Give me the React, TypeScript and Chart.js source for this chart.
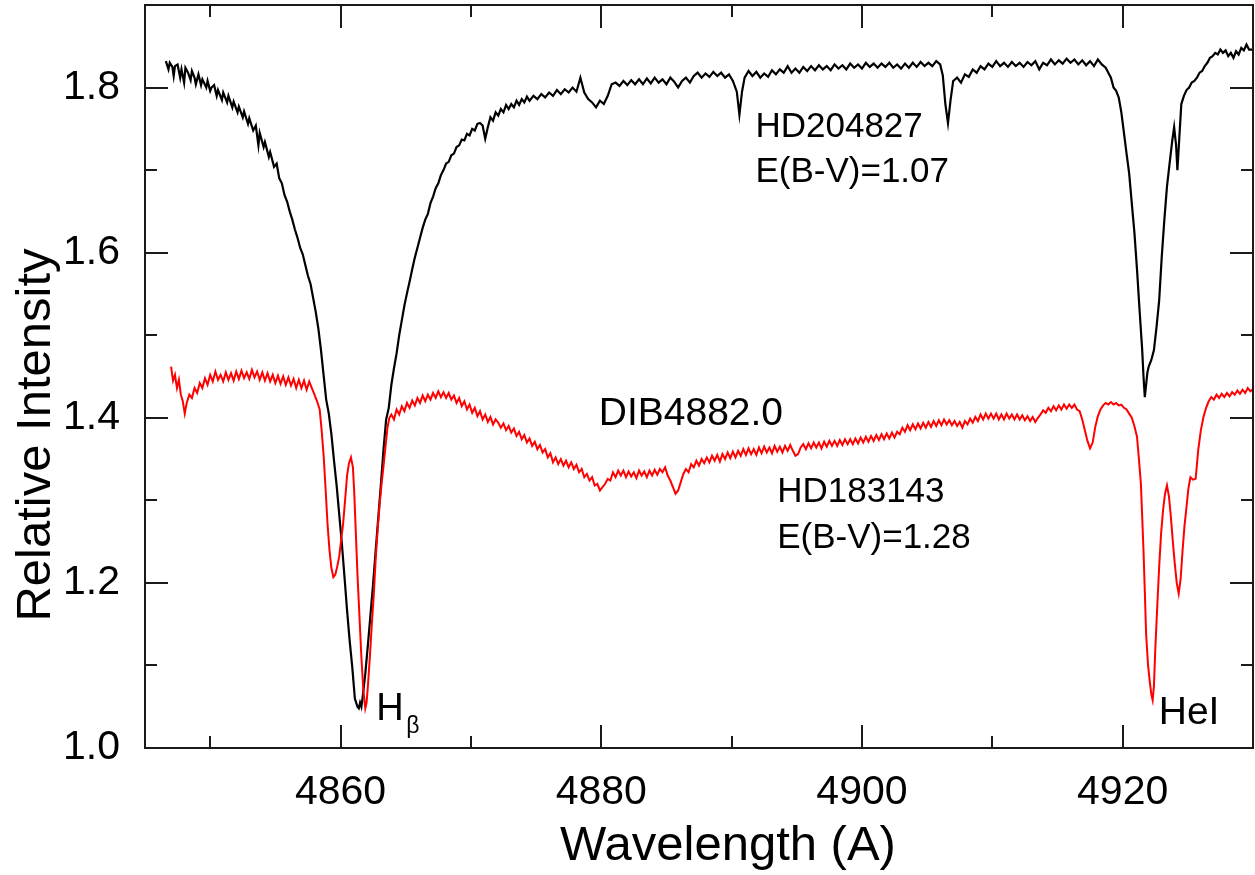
import React, { useEffect, useRef } from "react";
import { Chart, registerables } from "chart.js";

Chart.register(...registerables);

const X_MIN = 4845;
const X_MAX = 4930;
const Y_MIN = 1.0;
const Y_MAX = 1.9;
const X_MAJOR = [4860, 4880, 4900, 4920];
const X_MINOR = [4850, 4870, 4890, 4910];
const Y_MAJOR = [1.0, 1.2, 1.4, 1.6, 1.8];
const Y_MINOR = [1.1, 1.3, 1.5, 1.7];

const X_TITLE = "Wavelength (A)";
const Y_TITLE = "Relative Intensity";

// HD204827, E(B-V)=1.07 : [wavelength, relative intensity]
const HD204827: [number, number][] = [
  [4846.6, 1.832], [4846.8, 1.822], [4846.9, 1.830], [4847.1, 1.825], [4847.2, 1.814], [4847.3, 1.826], [4847.5, 1.828], [4847.7, 1.812],
  [4847.8, 1.822], [4848.0, 1.806], [4848.1, 1.824], [4848.3, 1.818], [4848.5, 1.809], [4848.6, 1.820], [4848.8, 1.812], [4848.9, 1.804],
  [4849.1, 1.816], [4849.3, 1.803], [4849.4, 1.810], [4849.7, 1.800], [4849.8, 1.808], [4850.0, 1.796], [4850.1, 1.800],
  [4850.3, 1.803], [4850.5, 1.790], [4850.6, 1.797], [4850.9, 1.785], [4851.0, 1.794], [4851.3, 1.782],
  [4851.4, 1.790], [4851.7, 1.776], [4851.8, 1.783], [4852.1, 1.770], [4852.2, 1.777], [4852.5, 1.764],
  [4852.6, 1.771], [4852.9, 1.756], [4853.0, 1.763], [4853.3, 1.748], [4853.5, 1.754], [4853.7, 1.730],
  [4853.8, 1.745], [4854.1, 1.728], [4854.2, 1.734], [4854.5, 1.716], [4854.6, 1.722], [4854.9, 1.704],
  [4855.1, 1.708], [4855.3, 1.690], [4855.5, 1.684], [4855.7, 1.670], [4855.9, 1.662], [4856.1, 1.650],
  [4856.3, 1.640], [4856.5, 1.628], [4856.7, 1.618], [4856.9, 1.606], [4857.1, 1.598], [4857.3, 1.585],
  [4857.5, 1.572], [4857.7, 1.562], [4857.9, 1.545], [4858.1, 1.528], [4858.3, 1.508], [4858.5, 1.482],
  [4858.7, 1.452], [4858.9, 1.422], [4859.1, 1.405], [4859.3, 1.380], [4859.5, 1.348], [4859.7, 1.318],
  [4859.9, 1.283], [4860.1, 1.248], [4860.3, 1.208], [4860.5, 1.167], [4860.7, 1.130], [4860.9, 1.098],
  [4861.1, 1.060], [4861.3, 1.050], [4861.4, 1.048], [4861.5, 1.055], [4861.6, 1.050], [4861.7, 1.062],
  [4861.9, 1.090], [4862.1, 1.125], [4862.3, 1.162], [4862.5, 1.199], [4862.7, 1.240], [4862.9, 1.280],
  [4863.1, 1.320], [4863.3, 1.362], [4863.5, 1.398], [4863.7, 1.412], [4863.9, 1.440], [4864.1, 1.460],
  [4864.3, 1.478], [4864.5, 1.500], [4864.7, 1.518], [4864.9, 1.536], [4865.1, 1.551], [4865.3, 1.565],
  [4865.5, 1.580], [4865.7, 1.594], [4865.9, 1.606], [4866.1, 1.618], [4866.3, 1.630], [4866.5, 1.640],
  [4866.7, 1.647], [4866.9, 1.660], [4867.1, 1.668], [4867.3, 1.678], [4867.5, 1.684], [4867.7, 1.694],
  [4867.9, 1.700], [4868.1, 1.708], [4868.3, 1.710], [4868.5, 1.718], [4868.7, 1.720], [4868.9, 1.728],
  [4869.1, 1.730], [4869.3, 1.737], [4869.5, 1.736], [4869.7, 1.744], [4869.9, 1.742], [4870.1, 1.750],
  [4870.3, 1.748], [4870.5, 1.756], [4870.7, 1.757], [4870.9, 1.754], [4871.1, 1.738], [4871.3, 1.752],
  [4871.5, 1.764], [4871.7, 1.760], [4871.9, 1.770], [4872.1, 1.766], [4872.3, 1.774], [4872.5, 1.770],
  [4872.7, 1.779], [4872.9, 1.774], [4873.1, 1.780], [4873.3, 1.776], [4873.5, 1.784], [4873.7, 1.779],
  [4873.9, 1.786], [4874.1, 1.782], [4874.3, 1.789], [4874.5, 1.784], [4874.8, 1.790], [4875.1, 1.786],
  [4875.4, 1.792], [4875.7, 1.788], [4876.0, 1.794], [4876.3, 1.790], [4876.6, 1.797], [4876.9, 1.792],
  [4877.2, 1.798], [4877.5, 1.794], [4877.8, 1.800], [4878.1, 1.795], [4878.4, 1.812], [4878.7, 1.794],
  [4879.0, 1.786], [4879.3, 1.782], [4879.6, 1.776], [4879.9, 1.784], [4880.2, 1.780], [4880.5, 1.790],
  [4880.8, 1.804], [4881.1, 1.806], [4881.4, 1.802], [4881.7, 1.808], [4882.0, 1.803], [4882.3, 1.809],
  [4882.6, 1.804], [4882.9, 1.810], [4883.2, 1.804], [4883.5, 1.811], [4883.8, 1.805], [4884.1, 1.812],
  [4884.4, 1.806], [4884.7, 1.810], [4885.0, 1.804], [4885.3, 1.812], [4885.6, 1.807], [4885.9, 1.800],
  [4886.2, 1.808], [4886.5, 1.812], [4886.8, 1.806], [4887.1, 1.814], [4887.4, 1.818], [4887.7, 1.812],
  [4888.0, 1.817], [4888.3, 1.813], [4888.6, 1.819], [4888.9, 1.814], [4889.2, 1.818], [4889.5, 1.812],
  [4889.8, 1.816], [4890.1, 1.808], [4890.4, 1.795], [4890.6, 1.767], [4890.8, 1.795], [4891.0, 1.812],
  [4891.3, 1.820], [4891.6, 1.814], [4891.9, 1.819], [4892.2, 1.812], [4892.5, 1.817], [4892.8, 1.813],
  [4893.1, 1.821], [4893.4, 1.816], [4893.7, 1.822], [4894.0, 1.818], [4894.3, 1.826], [4894.6, 1.818],
  [4894.9, 1.823], [4895.2, 1.818], [4895.5, 1.825], [4895.8, 1.820], [4896.1, 1.826], [4896.4, 1.821],
  [4896.7, 1.827], [4897.0, 1.822], [4897.3, 1.826], [4897.6, 1.821], [4897.9, 1.828], [4898.2, 1.823],
  [4898.5, 1.827], [4898.8, 1.822], [4899.1, 1.829], [4899.4, 1.824], [4899.7, 1.828], [4900.0, 1.823],
  [4900.3, 1.830], [4900.6, 1.825], [4900.9, 1.829], [4901.2, 1.824], [4901.5, 1.829], [4901.8, 1.825],
  [4902.1, 1.830], [4902.4, 1.824], [4902.7, 1.828], [4903.0, 1.823], [4903.3, 1.829], [4903.6, 1.824],
  [4903.9, 1.830], [4904.2, 1.825], [4904.5, 1.831], [4904.8, 1.826], [4905.1, 1.830], [4905.4, 1.826],
  [4905.7, 1.832], [4906.0, 1.828], [4906.2, 1.815], [4906.4, 1.780], [4906.6, 1.757], [4906.8, 1.785],
  [4907.0, 1.808], [4907.3, 1.812], [4907.6, 1.806], [4907.9, 1.816], [4908.2, 1.813], [4908.5, 1.822],
  [4908.8, 1.818], [4909.1, 1.826], [4909.4, 1.822], [4909.7, 1.829], [4910.0, 1.825], [4910.3, 1.832],
  [4910.6, 1.826], [4910.9, 1.830], [4911.2, 1.825], [4911.5, 1.831], [4911.8, 1.826], [4912.1, 1.830],
  [4912.4, 1.825], [4912.7, 1.831], [4913.0, 1.827], [4913.3, 1.832], [4913.6, 1.822], [4913.9, 1.830],
  [4914.2, 1.827], [4914.5, 1.834], [4914.8, 1.828], [4915.1, 1.833], [4915.4, 1.829], [4915.7, 1.835],
  [4916.0, 1.830], [4916.3, 1.834], [4916.6, 1.828], [4916.9, 1.833], [4917.2, 1.827], [4917.5, 1.832],
  [4917.8, 1.826], [4918.1, 1.834], [4918.4, 1.828], [4918.7, 1.824], [4918.9, 1.818], [4919.1, 1.812],
  [4919.3, 1.800], [4919.5, 1.796], [4919.7, 1.788], [4919.9, 1.770], [4920.1, 1.745], [4920.3, 1.720],
  [4920.5, 1.696], [4920.7, 1.660], [4920.9, 1.625], [4921.1, 1.580], [4921.3, 1.530], [4921.5, 1.482],
  [4921.6, 1.450], [4921.7, 1.425], [4921.8, 1.440], [4921.9, 1.455], [4922.0, 1.462], [4922.2, 1.470],
  [4922.4, 1.482], [4922.6, 1.510], [4922.8, 1.542], [4923.0, 1.595], [4923.2, 1.640], [4923.4, 1.680],
  [4923.6, 1.708], [4923.8, 1.735], [4923.95, 1.752], [4924.1, 1.730], [4924.2, 1.700], [4924.35, 1.740],
  [4924.5, 1.780], [4924.7, 1.790], [4924.9, 1.797], [4925.1, 1.800], [4925.3, 1.806], [4925.5, 1.808],
  [4925.7, 1.812], [4925.9, 1.818], [4926.1, 1.820], [4926.3, 1.826], [4926.5, 1.830], [4926.7, 1.836],
  [4926.9, 1.838], [4927.1, 1.842], [4927.3, 1.840], [4927.5, 1.846], [4927.7, 1.842], [4927.9, 1.845],
  [4928.1, 1.838], [4928.3, 1.842], [4928.5, 1.836], [4928.7, 1.844], [4928.9, 1.840], [4929.1, 1.848],
  [4929.3, 1.845], [4929.5, 1.852], [4929.7, 1.846], [4930.0, 1.846],
];

// HD183143, E(B-V)=1.28 : [wavelength, relative intensity]
const HD183143: [number, number][] = [
  [4847.0, 1.462], [4847.15, 1.445], [4847.3, 1.452], [4847.45, 1.436], [4847.6, 1.446], [4847.75, 1.428],
  [4847.9, 1.420], [4848.05, 1.405], [4848.2, 1.418], [4848.4, 1.428], [4848.6, 1.424], [4848.8, 1.436],
  [4849.0, 1.430], [4849.2, 1.442], [4849.4, 1.436], [4849.6, 1.448], [4849.8, 1.440], [4850.0, 1.452],
  [4850.2, 1.444], [4850.4, 1.456], [4850.6, 1.446], [4850.8, 1.452], [4851.0, 1.444], [4851.2, 1.455],
  [4851.4, 1.446], [4851.6, 1.454], [4851.8, 1.445], [4852.0, 1.456], [4852.2, 1.447], [4852.4, 1.457],
  [4852.6, 1.448], [4852.8, 1.455], [4853.0, 1.447], [4853.2, 1.458], [4853.4, 1.449], [4853.6, 1.456],
  [4853.8, 1.446], [4854.0, 1.455], [4854.2, 1.445], [4854.4, 1.454], [4854.6, 1.444], [4854.8, 1.452],
  [4855.0, 1.442], [4855.2, 1.451], [4855.4, 1.441], [4855.6, 1.450], [4855.8, 1.440], [4856.0, 1.449],
  [4856.2, 1.439], [4856.4, 1.447], [4856.6, 1.436], [4856.8, 1.446], [4857.0, 1.436], [4857.2, 1.445],
  [4857.4, 1.434], [4857.6, 1.444], [4857.8, 1.436], [4858.0, 1.428], [4858.2, 1.420], [4858.4, 1.410],
  [4858.55, 1.385], [4858.7, 1.355], [4858.85, 1.315], [4859.0, 1.272], [4859.15, 1.240], [4859.3, 1.218],
  [4859.45, 1.207], [4859.6, 1.210], [4859.75, 1.220], [4859.9, 1.232], [4860.05, 1.252], [4860.2, 1.272],
  [4860.35, 1.300], [4860.5, 1.330], [4860.65, 1.345], [4860.8, 1.352], [4860.95, 1.340], [4861.05, 1.310],
  [4861.15, 1.270], [4861.3, 1.210], [4861.45, 1.160], [4861.6, 1.110], [4861.75, 1.070], [4861.9, 1.048],
  [4862.0, 1.055], [4862.1, 1.075], [4862.25, 1.110], [4862.4, 1.150], [4862.55, 1.185], [4862.7, 1.230],
  [4862.85, 1.265], [4863.0, 1.295], [4863.15, 1.320], [4863.3, 1.342], [4863.45, 1.365], [4863.6, 1.388],
  [4863.75, 1.400], [4863.9, 1.404], [4864.1, 1.398], [4864.3, 1.410], [4864.5, 1.404], [4864.7, 1.414],
  [4864.9, 1.408], [4865.1, 1.418], [4865.3, 1.412], [4865.5, 1.421], [4865.7, 1.415], [4865.9, 1.424],
  [4866.1, 1.418], [4866.3, 1.427], [4866.5, 1.420], [4866.7, 1.428], [4866.9, 1.422], [4867.1, 1.430],
  [4867.3, 1.424], [4867.5, 1.432], [4867.7, 1.425], [4867.9, 1.431], [4868.1, 1.424], [4868.3, 1.430],
  [4868.5, 1.422], [4868.7, 1.427], [4868.9, 1.418], [4869.1, 1.424], [4869.3, 1.414], [4869.5, 1.420],
  [4869.7, 1.410], [4869.9, 1.416], [4870.1, 1.406], [4870.3, 1.412], [4870.5, 1.402], [4870.7, 1.408],
  [4870.9, 1.398], [4871.1, 1.404], [4871.3, 1.395], [4871.5, 1.401], [4871.7, 1.392], [4871.9, 1.398],
  [4872.1, 1.394], [4872.3, 1.388], [4872.5, 1.393], [4872.7, 1.385], [4872.9, 1.390], [4873.1, 1.382],
  [4873.3, 1.387], [4873.5, 1.378], [4873.7, 1.383], [4873.9, 1.374], [4874.1, 1.379], [4874.3, 1.370],
  [4874.5, 1.375], [4874.7, 1.366], [4874.9, 1.371], [4875.1, 1.362], [4875.3, 1.367], [4875.5, 1.358],
  [4875.7, 1.362], [4875.9, 1.352], [4876.1, 1.357], [4876.3, 1.346], [4876.5, 1.352], [4876.7, 1.344],
  [4876.9, 1.350], [4877.1, 1.342], [4877.3, 1.348], [4877.5, 1.340], [4877.7, 1.346], [4877.9, 1.338],
  [4878.1, 1.343], [4878.3, 1.334], [4878.5, 1.338], [4878.7, 1.328], [4878.9, 1.332], [4879.1, 1.324],
  [4879.3, 1.328], [4879.5, 1.318], [4879.7, 1.320], [4879.9, 1.312], [4880.1, 1.316], [4880.3, 1.320],
  [4880.5, 1.326], [4880.7, 1.324], [4880.9, 1.334], [4881.1, 1.328], [4881.3, 1.336], [4881.5, 1.330],
  [4881.7, 1.336], [4881.9, 1.328], [4882.1, 1.335], [4882.3, 1.329], [4882.5, 1.334], [4882.7, 1.327],
  [4882.9, 1.336], [4883.1, 1.330], [4883.3, 1.335], [4883.5, 1.328], [4883.7, 1.336], [4883.9, 1.330],
  [4884.1, 1.337], [4884.3, 1.331], [4884.5, 1.338], [4884.7, 1.334], [4884.9, 1.340], [4885.1, 1.330],
  [4885.3, 1.324], [4885.5, 1.316], [4885.7, 1.308], [4885.9, 1.312], [4886.1, 1.322], [4886.3, 1.332],
  [4886.5, 1.338], [4886.7, 1.334], [4886.9, 1.344], [4887.1, 1.340], [4887.3, 1.348], [4887.5, 1.342],
  [4887.7, 1.350], [4887.9, 1.345], [4888.1, 1.352], [4888.3, 1.346], [4888.5, 1.354], [4888.7, 1.348],
  [4888.9, 1.355], [4889.1, 1.347], [4889.3, 1.356], [4889.5, 1.350], [4889.7, 1.358], [4889.9, 1.351],
  [4890.1, 1.359], [4890.3, 1.352], [4890.5, 1.360], [4890.7, 1.354], [4890.9, 1.362], [4891.1, 1.355],
  [4891.3, 1.363], [4891.5, 1.356], [4891.7, 1.362], [4891.9, 1.355], [4892.1, 1.364], [4892.3, 1.357],
  [4892.5, 1.365], [4892.7, 1.358], [4892.9, 1.364], [4893.1, 1.357], [4893.3, 1.366], [4893.5, 1.359],
  [4893.7, 1.365], [4893.9, 1.358], [4894.1, 1.366], [4894.3, 1.360], [4894.5, 1.367], [4894.7, 1.360],
  [4894.9, 1.354], [4895.1, 1.356], [4895.3, 1.364], [4895.5, 1.368], [4895.7, 1.362], [4895.9, 1.369],
  [4896.1, 1.363], [4896.3, 1.370], [4896.5, 1.364], [4896.7, 1.370], [4896.9, 1.363], [4897.1, 1.371],
  [4897.3, 1.365], [4897.5, 1.372], [4897.7, 1.366], [4897.9, 1.372], [4898.1, 1.366], [4898.3, 1.373],
  [4898.5, 1.367], [4898.7, 1.374], [4898.9, 1.368], [4899.1, 1.374], [4899.3, 1.368], [4899.5, 1.375],
  [4899.7, 1.369], [4899.9, 1.376], [4900.1, 1.370], [4900.3, 1.377], [4900.5, 1.371], [4900.7, 1.378],
  [4900.9, 1.372], [4901.1, 1.379], [4901.3, 1.373], [4901.5, 1.380], [4901.7, 1.374], [4901.9, 1.381],
  [4902.1, 1.375], [4902.3, 1.382], [4902.5, 1.376], [4902.7, 1.383], [4902.9, 1.380], [4903.1, 1.388],
  [4903.3, 1.383], [4903.5, 1.391], [4903.7, 1.385], [4903.9, 1.392], [4904.1, 1.386], [4904.3, 1.393],
  [4904.5, 1.387], [4904.7, 1.394], [4904.9, 1.388], [4905.1, 1.395], [4905.3, 1.389], [4905.5, 1.396],
  [4905.7, 1.390], [4905.9, 1.397], [4906.1, 1.391], [4906.3, 1.398], [4906.5, 1.392], [4906.7, 1.397],
  [4906.9, 1.391], [4907.1, 1.396], [4907.3, 1.390], [4907.5, 1.395], [4907.7, 1.388], [4907.9, 1.396],
  [4908.1, 1.392], [4908.3, 1.399], [4908.5, 1.394], [4908.7, 1.401], [4908.9, 1.396], [4909.1, 1.404],
  [4909.3, 1.398], [4909.5, 1.405], [4909.7, 1.399], [4909.9, 1.405], [4910.1, 1.399], [4910.3, 1.405],
  [4910.5, 1.398], [4910.7, 1.404], [4910.9, 1.398], [4911.1, 1.405], [4911.3, 1.399], [4911.5, 1.404],
  [4911.7, 1.398], [4911.9, 1.404], [4912.1, 1.398], [4912.3, 1.403], [4912.5, 1.397], [4912.7, 1.402],
  [4912.9, 1.396], [4913.1, 1.401], [4913.3, 1.395], [4913.5, 1.400], [4913.7, 1.404], [4913.9, 1.409],
  [4914.1, 1.406], [4914.3, 1.412], [4914.5, 1.408], [4914.7, 1.414], [4914.9, 1.409], [4915.1, 1.415],
  [4915.3, 1.410], [4915.5, 1.416], [4915.7, 1.411], [4915.9, 1.416], [4916.1, 1.412], [4916.3, 1.416],
  [4916.5, 1.410], [4916.7, 1.408], [4916.9, 1.398], [4917.1, 1.385], [4917.3, 1.372], [4917.5, 1.363],
  [4917.7, 1.370], [4917.9, 1.389], [4918.1, 1.402], [4918.3, 1.410], [4918.5, 1.415], [4918.7, 1.418],
  [4918.9, 1.416], [4919.1, 1.419], [4919.3, 1.416], [4919.5, 1.418], [4919.7, 1.415], [4919.9, 1.416],
  [4920.1, 1.412], [4920.3, 1.410], [4920.5, 1.405], [4920.7, 1.400], [4920.9, 1.390], [4921.1, 1.377],
  [4921.25, 1.350], [4921.4, 1.320], [4921.5, 1.280], [4921.6, 1.239], [4921.7, 1.190], [4921.8, 1.138],
  [4921.95, 1.100], [4922.1, 1.078], [4922.2, 1.065], [4922.3, 1.058], [4922.4, 1.075], [4922.5, 1.118],
  [4922.65, 1.170], [4922.8, 1.219], [4922.95, 1.260], [4923.1, 1.288], [4923.25, 1.308], [4923.4, 1.318],
  [4923.55, 1.305], [4923.7, 1.280], [4923.85, 1.250], [4924.0, 1.223], [4924.15, 1.200], [4924.3, 1.187],
  [4924.45, 1.205], [4924.6, 1.240], [4924.75, 1.270], [4924.9, 1.292], [4925.05, 1.315], [4925.2, 1.328],
  [4925.4, 1.325], [4925.6, 1.326], [4925.8, 1.361], [4926.0, 1.385], [4926.2, 1.401], [4926.4, 1.412],
  [4926.6, 1.420], [4926.8, 1.425], [4927.0, 1.422], [4927.2, 1.428], [4927.4, 1.424], [4927.6, 1.429],
  [4927.8, 1.425], [4928.0, 1.430], [4928.2, 1.426], [4928.4, 1.431], [4928.6, 1.428], [4928.8, 1.433],
  [4929.0, 1.429], [4929.2, 1.434], [4929.4, 1.430], [4929.6, 1.436], [4929.8, 1.432], [4930.0, 1.435],
];

// text labels anchored in data coordinates (left edge, baseline)
const ANNOTATIONS: { text: string; x: number; y: number; size: number }[] = [
  { text: "HD204827", x: 4891.83, y: 1.7404, size: 35 },
  { text: "E(B-V)=1.07", x: 4891.83, y: 1.6858, size: 35 },
  { text: "DIB4882.0", x: 4879.81, y: 1.3909, size: 39 },
  { text: "HD183143", x: 4893.5, y: 1.2976, size: 35 },
  { text: "E(B-V)=1.28", x: 4893.5, y: 1.2418, size: 35 },
  { text: "H", x: 4862.74, y: 1.0342, size: 38 },
  { text: "β", x: 4865.05, y: 1.0176, size: 23 },
  { text: "HeI", x: 4922.77, y: 1.0293, size: 39 },
];

const FONT = '"Liberation Sans", Arial, Helvetica, sans-serif';

const framePlugin = {
  id: "frameAndText",
  afterDatasetsDraw(chart: any) {
    const { ctx, chartArea: a, scales } = chart;
    const xs = scales.x;
    const ys = scales.y;
    ctx.save();
    ctx.strokeStyle = "#1a1a1a";
    ctx.lineWidth = 2;
    ctx.strokeRect(a.left, a.top, a.right - a.left, a.bottom - a.top);
    ctx.beginPath();
    const xt = (vals: number[], len: number) => {
      vals.forEach((v) => {
        const px = Math.round(xs.getPixelForValue(v));
        ctx.moveTo(px, a.bottom);
        ctx.lineTo(px, a.bottom - len);
        ctx.moveTo(px, a.top);
        ctx.lineTo(px, a.top + len);
      });
    };
    const yt = (vals: number[], len: number) => {
      vals.forEach((v) => {
        const py = Math.round(ys.getPixelForValue(v));
        ctx.moveTo(a.left, py);
        ctx.lineTo(a.left + len, py);
        ctx.moveTo(a.right, py);
        ctx.lineTo(a.right - len, py);
      });
    };
    xt(X_MAJOR, 23);
    xt(X_MINOR, 12);
    yt(Y_MAJOR, 23);
    yt(Y_MINOR, 12);
    ctx.stroke();

    ctx.fillStyle = "#000";
    ctx.textBaseline = "alphabetic";
    ctx.textAlign = "left";
    ANNOTATIONS.forEach((t) => {
      ctx.font = `${t.size}px ${FONT}`;
      ctx.fillText(t.text, xs.getPixelForValue(t.x), ys.getPixelForValue(t.y));
    });

    // axis titles
    ctx.font = `49px ${FONT}`;
    ctx.textAlign = "center";
    ctx.fillText(X_TITLE, (a.left + a.right) / 2 + 29, 859.5);
    ctx.save();
    ctx.translate(50, 435);
    ctx.rotate(-Math.PI / 2);
    ctx.fillText(Y_TITLE, 0, 0);
    ctx.restore();
    ctx.restore();
  },
};

export default function App() {
  const ref = useRef<HTMLCanvasElement | null>(null);
  useEffect(() => {
    document.body.style.margin = "0";
    const canvas = ref.current;
    if (!canvas) return;
    const chart = new Chart(canvas, {
      type: "line",
      data: {
        datasets: [
          {
            label: "HD183143",
            data: HD183143.map(([x, y]) => ({ x, y })),
            borderColor: "#ff0000",
            borderWidth: 2,
            pointRadius: 0,
            tension: 0,
            fill: false,
          },
          {
            label: "HD204827",
            data: HD204827.map(([x, y]) => ({ x, y })),
            borderColor: "#000000",
            borderWidth: 2.2,
            pointRadius: 0,
            tension: 0,
            fill: false,
          },
        ],
      },
      options: {
        animation: false,
        responsive: false,
        devicePixelRatio: 1,
        layout: { padding: { top: 5, right: 2, left: 0, bottom: 0 } },
        plugins: { legend: { display: false }, tooltip: { enabled: false } },
        scales: {
          x: {
            type: "linear",
            min: X_MIN,
            max: X_MAX,
            afterBuildTicks: (s: any) => {
              s.ticks = X_MAJOR.map((v) => ({ value: v }));
            },
            afterFit: (s: any) => {
              s.height = 127;
              s.paddingLeft = 0;
              s.paddingRight = 0;
            },
            grid: { display: false, drawTicks: false },
            border: { display: false },
            ticks: {
              padding: 20,
              color: "#000",
              font: { family: FONT, size: 41 },
              maxRotation: 0,
              callback: (v: any) => String(v),
            },
          },
          y: {
            type: "linear",
            min: Y_MIN,
            max: Y_MAX,
            afterBuildTicks: (s: any) => {
              s.ticks = Y_MAJOR.map((v) => ({ value: v }));
            },
            afterFit: (s: any) => {
              s.width = 145;
              s.paddingTop = 0;
              s.paddingBottom = 0;
            },
            grid: { display: false, drawTicks: false },
            border: { display: false },
            ticks: {
              padding: 25,
              color: "#000",
              font: { family: FONT, size: 41 },
              callback: (v: any) => Number(v).toFixed(1),
            },
          },
        },
      },
      plugins: [framePlugin],
    });
    return () => chart.destroy();
  }, []);
  return <canvas ref={ref} width={1255} height={875} style={{ display: "block" }} />;
}
